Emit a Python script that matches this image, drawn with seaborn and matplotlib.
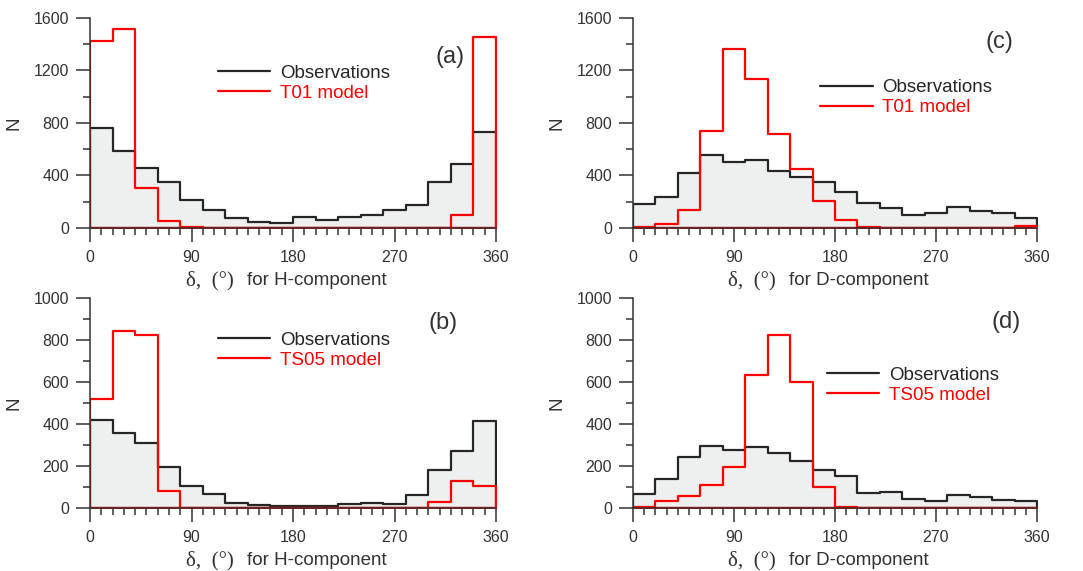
import numpy as np
import pandas as pd
import seaborn as sns
import matplotlib.pyplot as plt
from matplotlib.lines import Line2D
from matplotlib.ticker import MultipleLocator

# bin centres of delta (deg), 20-degree bins over 0..360
bin_centers = np.arange(10, 360, 20)

# (a) H-component, T01
obs_a = [762, 584, 460, 350, 213, 137, 74, 43, 38, 86, 61, 81, 99, 137, 175, 348, 490, 729]
t01_a = [1422, 1519, 307, 53, 10, 0, 0, 0, 0, 0, 0, 0, 0, 0, 0, 0, 99, 1453]
# (c) D-component, T01
obs_c = [180, 239, 417, 554, 505, 518, 434, 391, 348, 272, 190, 152, 99, 117, 157, 130, 112, 79]
t01_c = [10, 30, 137, 739, 1364, 1135, 714, 447, 206, 61, 10, 2, 2, 2, 2, 2, 2, 15]
# (b) H-component, TS05
obs_b = [417, 358, 310, 193, 107, 68, 25, 14, 11, 11, 11, 18, 22, 18, 62, 183, 271, 412]
ts05_b = [518, 844, 822, 83, 0, 0, 0, 0, 0, 0, 0, 0, 0, 0, 0, 30, 129, 107]
# (d) D-component, TS05
obs_d = [68, 140, 245, 293, 277, 290, 263, 225, 183, 154, 72, 78, 43, 32, 62, 51, 37, 32]
ts05_d = [3, 32, 56, 108, 193, 631, 823, 599, 99, 3, 0, 0, 0, 0, 0, 0, 0, 0]

sns.set_style('ticks')
plt.rcParams['font.family'] = ['Liberation Sans', 'DejaVu Sans']

OBS_COLOR = '#262626'
MODEL_COLOR = '#ff0000'
FILL_COLOR = '#eef0ef'
TEXT_COLOR = '#333333'

fig = plt.figure(figsize=(10.83, 5.71), dpi=100)

panels = [
    # rect, obs, model, model name, component, ymax, tag, legend anchor, tag pos
    ([0.0831, 0.6007, 0.3749, 0.3678], obs_a, t01_a, 'T01 model', 'H', 1600, '(a)', (0.315, 0.778), (0.887, 0.814)),
    ([0.5845, 0.6007, 0.3730, 0.3678], obs_c, t01_c, 'T01 model', 'D', 1600, '(c)', (0.463, 0.708), (0.908, 0.886)),
    ([0.0831, 0.1103, 0.3749, 0.3678], obs_b, ts05_b, 'TS05 model', 'H', 1000, '(b)', (0.315, 0.840), (0.869, 0.881)),
    ([0.5845, 0.1103, 0.3730, 0.3678], obs_d, ts05_d, 'TS05 model', 'D', 1000, '(d)', (0.48, 0.674), (0.923, 0.886)),
]

for rect, obs, model, model_name, comp, ymax, tag, leg_pos, tag_pos in panels:
    ax = fig.add_axes(rect)
    df = pd.DataFrame({'delta': bin_centers, 'obs': obs, 'model': model})

    # observations: grey filled step histogram
    sns.histplot(data=df, x='delta', weights='obs', binwidth=20, binrange=(0, 360),
                 element='step', fill=True, color=OBS_COLOR, facecolor=FILL_COLOR,
                 edgecolor=OBS_COLOR, linewidth=1.6, ax=ax)
    # model: red outline step histogram (transparent fill)
    sns.histplot(data=df, x='delta', weights='model', binwidth=20, binrange=(0, 360),
                 element='step', fill=True, color=MODEL_COLOR, alpha=0,
                 edgecolor=MODEL_COLOR, linewidth=1.6, ax=ax)

    ax.set_xlim(0, 360)
    ax.set_ylim(0, ymax)
    ax.xaxis.set_major_locator(MultipleLocator(90))
    ax.xaxis.set_minor_locator(MultipleLocator(10))
    if ymax == 1600:
        ax.yaxis.set_major_locator(MultipleLocator(400))
        ax.yaxis.set_minor_locator(MultipleLocator(200))
    else:
        ax.yaxis.set_major_locator(MultipleLocator(200))
        ax.yaxis.set_minor_locator(MultipleLocator(100))
    ax.tick_params(which='major', length=10, width=1.1, color=TEXT_COLOR,
                   labelsize=11.5, labelcolor=TEXT_COLOR)
    ax.tick_params(which='minor', length=5, width=1.1, color=TEXT_COLOR)
    ax.tick_params(axis='x', which='major', pad=6)
    ax.tick_params(axis='y', which='major', pad=5)
    sns.despine(ax=ax)
    for side in ['left', 'bottom']:
        ax.spines[side].set_linewidth(1.1)
        ax.spines[side].set_color(TEXT_COLOR)

    ax.set_xlabel('')
    ax.set_ylabel('N', fontsize=13.5, color=TEXT_COLOR)
    ax.yaxis.set_label_coords(-0.167, 0.5)

    # x label: serif delta part plus sans part
    ax.text(0.236, -0.25, 'δ,  (°)', transform=ax.transAxes, ha='left', va='center',
            fontsize=15, color=TEXT_COLOR, family=['Liberation Serif', 'DejaVu Serif'])
    ax.text(0.387, -0.25, f'for {comp}-component', transform=ax.transAxes, ha='left',
            va='center', fontsize=13.5, color=TEXT_COLOR)

    handles = [Line2D([], [], color=OBS_COLOR, lw=1.6),
               Line2D([], [], color=MODEL_COLOR, lw=1.6)]
    ax.legend(handles, ['Observations', model_name], loc='upper left',
              bbox_to_anchor=leg_pos, frameon=False, fontsize=13.5,
              handlelength=2.8, handletextpad=0.5, labelspacing=0.15,
              borderpad=0, borderaxespad=0, labelcolor=[OBS_COLOR, MODEL_COLOR])

    ax.text(tag_pos[0], tag_pos[1], tag, transform=ax.transAxes, ha='center',
            va='center', fontsize=17, color=TEXT_COLOR)

fig.savefig('out.png', dpi=100)
